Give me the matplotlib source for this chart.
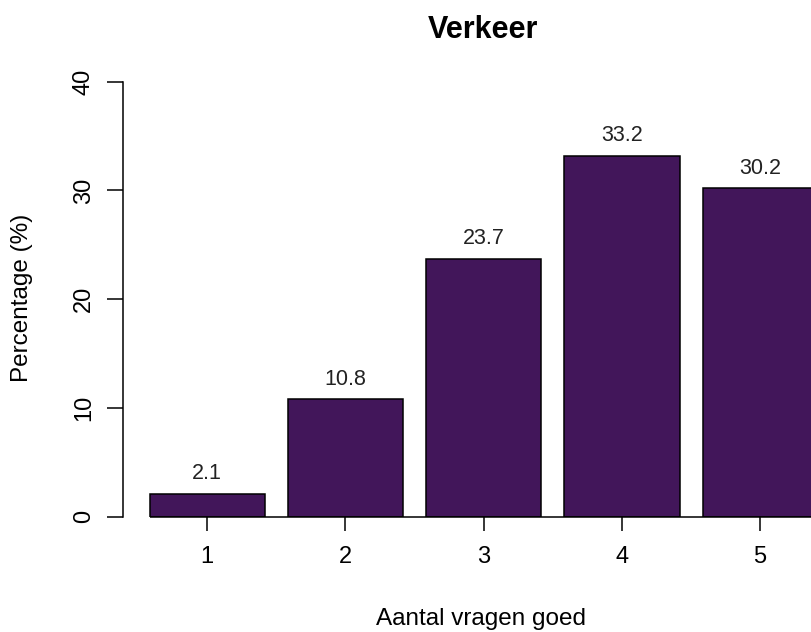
import matplotlib
matplotlib.use("Agg")
import matplotlib.pyplot as plt

categories = ["1", "2", "3", "4", "5"]
values = [2.1, 10.8, 23.7, 33.2, 30.2]
yticks = [0, 10, 20, 30, 40]

plt.rcParams['font.family'] = ['Liberation Sans', 'DejaVu Sans']

W, H = 811, 632
fig = plt.figure(figsize=(W / 100, H / 100), dpi=100)
left_px, right_px = 122.7, 811
top_px, bottom_px = 81.7, 516.7
ax = fig.add_axes([left_px / W, 1 - bottom_px / H, (right_px - left_px) / W, (bottom_px - top_px) / H])

x = list(range(1, len(categories) + 1))
bw = 1 / 1.2
ax.bar(x, values, width=bw, color="#42165A", edgecolor="black", linewidth=1.1, zorder=2)
ax.hlines(0, x[0] - bw / 2, x[-1] + bw, color="black", linewidth=1.1, clip_on=False, zorder=3)

for xi, v in zip(x, values):
    ax.annotate(f"{v}", (xi, v), xytext=(0, 14.5), textcoords="offset points",
                ha="center", va="center", fontsize=15.5, color="#222222")

ax.set_xlim(0.388, 5.368)
ax.set_ylim(0, 40)
ax.set_xticks(x)
ax.set_xticklabels(categories, fontsize=17)
ax.set_yticks(yticks)
ax.set_yticklabels([str(t) for t in yticks], fontsize=17, rotation=90, va="center")

for s in ["top", "right", "bottom"]:
    ax.spines[s].set_visible(False)
ax.spines["left"].set_linewidth(1.1)
ax.tick_params(axis="y", length=11.5, width=1.1, pad=8.5, direction="out")
ax.tick_params(axis="x", length=10, width=1.1, pad=11, direction="out")

fig.text(482.5 / W, 1 - 30 / H, "Verkeer", ha="center", va="center", fontsize=22, fontweight="bold")
fig.text(481.5 / W, 1 - 619 / H, "Aantal vragen goed", ha="center", va="center", fontsize=17.5)
fig.text(22.5 / W, 1 - 297.5 / H, "Percentage (%)", ha="center", va="center", fontsize=17.5, rotation=90)

fig.savefig("out.png", dpi=100)
